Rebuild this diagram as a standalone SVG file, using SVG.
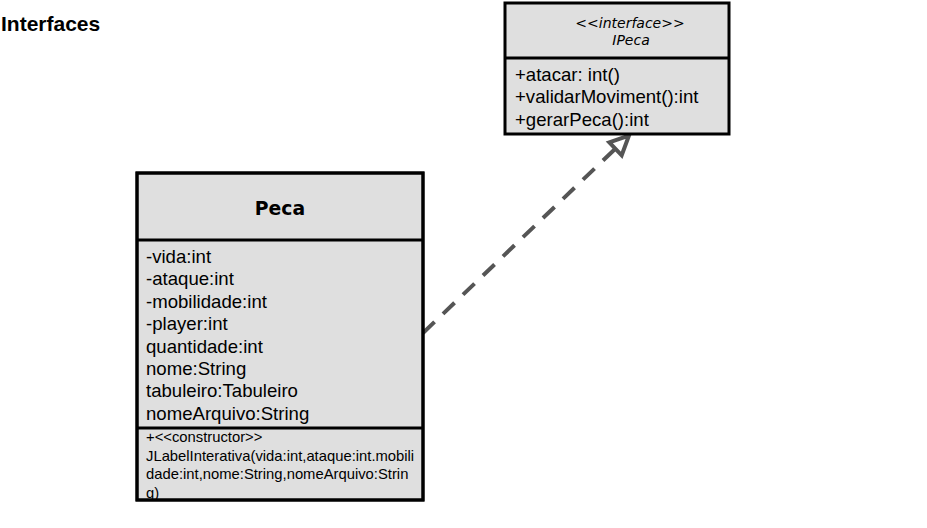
<svg xmlns="http://www.w3.org/2000/svg" width="927" height="528" viewBox="0 0 927 528">
<defs>
<style>
.box{fill:#dfdfdf;stroke:#000;stroke-width:3}
.div{stroke:#000;stroke-width:3}
.attr{font-family:"Liberation Sans",Arial,sans-serif;font-size:18.6px;fill:#000}
.small{font-family:"Liberation Sans",Arial,sans-serif;font-size:14.8px;fill:#000}
.stereo{font-family:"DejaVu Sans",Verdana,sans-serif;font-style:italic;font-size:14px;fill:#000}
.title{font-family:"DejaVu Sans",Verdana,sans-serif;font-weight:bold;font-size:18.8px;fill:#000}
.conn{fill:none;stroke:#555;stroke-width:4}
</style>
<clipPath id="pecaClip"><rect x="137" y="428" width="286" height="72"/></clipPath>
</defs>
<text x="1" y="31" font-family="Liberation Sans,Arial,sans-serif" font-weight="bold" font-size="21">Interfaces</text>
<g id="connectors">
<line class="conn" x1="423" y1="333" x2="615" y2="149" stroke-dasharray="16 11.7"/>
<path class="conn" d="M609.3,142.3 L629,135.5 L621.7,155.3 Z" stroke-linejoin="miter"/>
</g>
<g id="IPeca">
<rect class="box" x="505" y="3" width="224" height="131"/>
<line class="div" x1="505" y1="58" x2="729" y2="58"/>
<text class="stereo" x="630" y="28" text-anchor="middle">&lt;&lt;interface&gt;&gt;</text>
<text class="stereo" x="631" y="45" text-anchor="middle">IPeca</text>
<text class="attr" x="515" y="80.5">+atacar: int()</text>
<text class="attr" x="515" y="103">+validarMoviment():int</text>
<text class="attr" x="515" y="125.5">+gerarPeca():int</text>
</g>
<g id="Peca">
<rect class="box" x="137" y="173" width="286" height="327"/>
<line class="div" x1="137" y1="240" x2="423" y2="240"/>
<line class="div" x1="137" y1="428" x2="423" y2="428"/>
<text class="title" x="280" y="215" text-anchor="middle">Peca</text>
<text class="attr" x="146" y="263">-vida:int</text>
<text class="attr" x="146" y="285.4">-ataque:int</text>
<text class="attr" x="146" y="307.8">-mobilidade:int</text>
<text class="attr" x="146" y="330.2">-player:int</text>
<text class="attr" x="146" y="352.6">quantidade:int</text>
<text class="attr" x="146" y="375">nome:String</text>
<text class="attr" x="146" y="397.4">tabuleiro:Tabuleiro</text>
<text class="attr" x="146" y="419.8">nomeArquivo:String</text>
<g clip-path="url(#pecaClip)">
<text class="small" x="146" y="442">+&lt;&lt;constructor&gt;&gt;</text>
<text class="small" x="146" y="460.5">JLabelInterativa(vida:int,ataque:int.mobili</text>
<text class="small" x="146" y="479">dade:int,nome:String,nomeArquivo:Strin</text>
<text class="small" x="146" y="497.5">g)</text>
</g>
<rect x="137" y="173" width="286" height="327" fill="none" stroke="#000" stroke-width="3"/>
</g>
</svg>
